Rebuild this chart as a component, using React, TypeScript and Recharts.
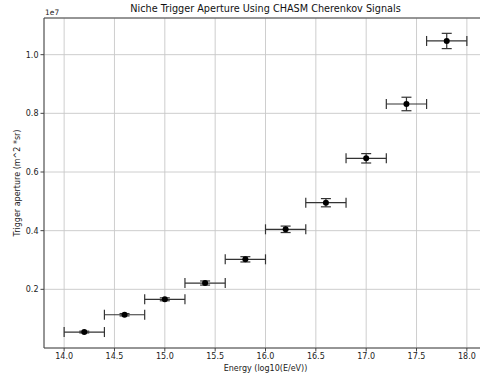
import React from 'react';
import {
  ScatterChart,
  Scatter,
  XAxis,
  YAxis,
  CartesianGrid,
  ErrorBar,
  ReferenceLine,
  Label,
} from 'recharts';

// log10 energy bin centres and half widths
const energy = [14.2, 14.6, 15.0, 15.4, 15.8, 16.2, 16.6, 17.0, 17.4, 17.8];
const energyErr = [0.2, 0.2, 0.2, 0.2, 0.2, 0.2, 0.2, 0.2, 0.2, 0.2];

// trigger aperture (m^2 sr) and its uncertainty
const aperture = [544000, 1134000, 1660000, 2215000, 3023000, 4046000, 4953000, 6467000, 8319000, 10467000];
const apertureErr = [30000, 40000, 50000, 70000, 90000, 110000, 140000, 160000, 230000, 260000];

const xTicks = [14.0, 14.5, 15.0, 15.5, 16.0, 16.5, 17.0, 17.5, 18.0];
const yTicks = [2000000, 4000000, 6000000, 8000000, 10000000];

const FONT = '"DejaVu Sans", sans-serif';
const SPINE = '#444';
const TEXT = '#222';
const Y_MAX = 11250000;

const data = energy.map((e, i) => ({
  energy: e,
  xErr: energyErr[i],
  aperture: aperture[i],
  yErr: apertureErr[i],
}));

const Dot = (props: any) => <circle cx={props.cx} cy={props.cy} r={3} fill="#000" />;

export default function App() {
  const tick = { fontSize: 8, fill: TEXT, fontFamily: FONT };
  return (
    <div
      style={{
        position: 'absolute',
        left: 0,
        top: 0,
        width: 480,
        height: 378,
        overflow: 'hidden',
        background: '#fff',
        fontFamily: FONT,
      }}
    >
      <div
        style={{
          position: 'absolute',
          left: 44,
          width: 443,
          top: 3,
          textAlign: 'center',
          fontSize: 9.7,
          lineHeight: '12px',
          color: '#111',
        }}
      >
        Niche Trigger Aperture Using CHASM Cherenkov Signals
      </div>
      <div style={{ position: 'absolute', left: 45, top: 8, fontSize: 7.5, lineHeight: '9px', color: TEXT }}>
        1e7
      </div>
      <ScatterChart width={500} height={378} margin={{ top: 18, right: 13, bottom: 0, left: 0 }}>
        <CartesianGrid stroke="#c8c8c8" strokeWidth={0.9} />
        <XAxis
          type="number"
          dataKey="energy"
          domain={[13.8, 18.2]}
          ticks={xTicks}
          tickFormatter={(v: number) => v.toFixed(1)}
          allowDataOverflow
          height={30}
          tickSize={3.5}
          tickMargin={2}
          tick={tick}
          stroke={SPINE}
        >
          <Label
            value="Energy (log10(E/eV))"
            position="center"
            dy={5}
            fill={TEXT}
            fontSize={8}
            fontFamily={FONT}
          />
        </XAxis>
        <YAxis
          type="number"
          dataKey="aperture"
          domain={[0, Y_MAX]}
          ticks={yTicks}
          tickFormatter={(v: number) => (v / 1e7).toFixed(1)}
          allowDataOverflow
          width={44}
          tickSize={3.5}
          tickMargin={2}
          tick={tick}
          stroke={SPINE}
        >
          <Label
            value="Trigger aperture (m^2 *sr)"
            angle={-90}
            position="center"
            dx={-5}
            fill={TEXT}
            fontSize={8}
            fontFamily={FONT}
          />
        </YAxis>
        <ReferenceLine y={Y_MAX} stroke={SPINE} />
        <Scatter data={data} shape={Dot} isAnimationActive={false}>
          <ErrorBar dataKey="xErr" direction="x" width={5} stroke="#333" strokeWidth={1.2} isAnimationActive={false} />
          <ErrorBar dataKey="yErr" direction="y" width={5} stroke="#333" strokeWidth={1.2} isAnimationActive={false} />
        </Scatter>
      </ScatterChart>
    </div>
  );
}
